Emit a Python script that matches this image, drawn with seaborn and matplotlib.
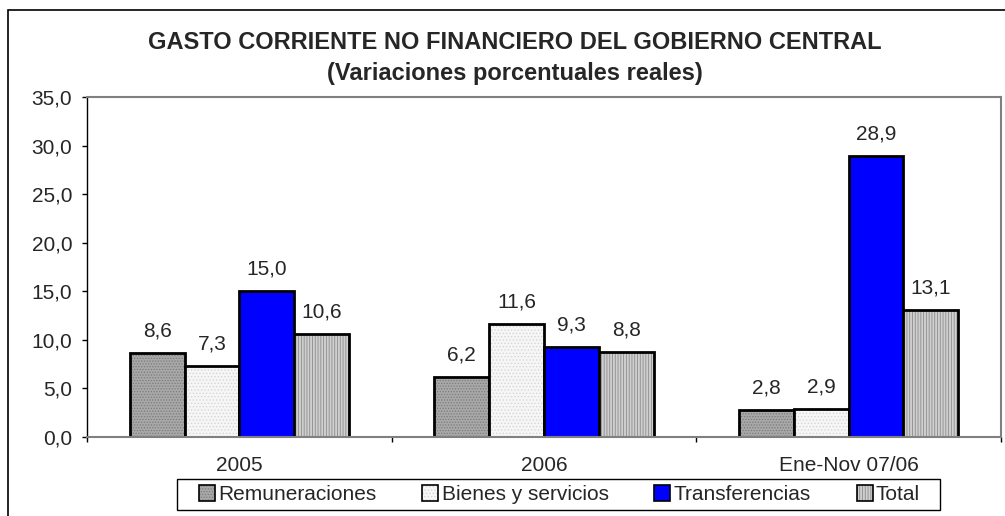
import numpy as np
import pandas as pd
import matplotlib
matplotlib.use('Agg')
import matplotlib.pyplot as plt
import seaborn as sns
from matplotlib.patches import Patch, Rectangle
from matplotlib.colors import to_rgba

# Data
periods = ['2005', '2006', 'Ene-Nov 07/06']
series = ['Remuneraciones', 'Bienes y servicios', 'Transferencias', 'Total']
remuneraciones = [8.6, 6.2, 2.8]
bienes = [7.3, 11.6, 2.9]
transferencias = [15.0, 9.3, 28.9]
total = [10.6, 8.8, 13.1]

# style per series: face, hatch, hatch colour
faces = ['#a8a8a8', '#f6f6f6', '#0000ff', '#cfcfcf']
hatches = ['......', '.....', '', '||||||']
hatch_cols = ['#7c7c7c', '#d6d6d6', '#0000ff', '#8c8c8c']

df = pd.DataFrame({
    'periodo': periods * 4,
    'serie': np.repeat(series, 3),
    'valor': remuneraciones + bienes + transferencias + total,
})

sns.set_style('white')
plt.rcParams['font.family'] = ['Liberation Sans', 'DejaVu Sans']
plt.rcParams['hatch.linewidth'] = 0.6

fig = plt.figure(figsize=(10.05, 5.16), dpi=100)
ax = fig.add_axes([0.0866, 0.153, 0.9094, 0.659])

sns.barplot(data=df, x='periodo', y='valor', hue='serie', order=periods,
            hue_order=series, palette=faces, width=0.72, saturation=1,
            legend=False, ax=ax)

for i, cont in enumerate(ax.containers):
    for p in cont:
        p.set_edgecolor('black')
        p.set_linewidth(2)
        p.set_hatch(hatches[i])
        p._hatch_color = to_rgba(hatch_cols[i])
    ax.bar_label(cont, labels=[f'{v:.1f}'.replace('.', ',') for v in cont.datavalues],
                 padding=9, fontsize=15)

ax.set_ylim(0, 35)
ax.set_xlim(-0.5, 2.5)
ax.set_yticks(np.arange(0, 36, 5))
ax.set_yticklabels([f'{v:.1f}'.replace('.', ',') for v in np.arange(0, 36, 5)], fontsize=15)
ax.tick_params(axis='y', direction='out', length=3.6, width=1, color='black', left=True, pad=7)
ax.tick_params(axis='x', length=0, labelsize=15, pad=13.5)
ax.set_xticks([-0.5, 0.5, 1.5, 2.5], minor=True)
ax.tick_params(axis='x', which='minor', direction='out', length=3.6, width=1, color='black', bottom=True)
ax.set_xlabel('')
ax.set_ylabel('')

for side in ['top', 'right', 'bottom']:
    ax.spines[side].set_color('#808080')
    ax.spines[side].set_linewidth(1.5)
ax.spines['left'].set_color('black')
ax.spines['left'].set_linewidth(1)

fig.text(0.512, 0.918, 'GASTO CORRIENTE NO FINANCIERO DEL GOBIERNO CENTRAL',
         ha='center', va='center', fontsize=17, fontweight='bold')
fig.text(0.512, 0.858, '(Variaciones porcentuales reales)',
         ha='center', va='center', fontsize=17, fontweight='bold')

handles = []
for i in range(4):
    h = Patch(facecolor=faces[i], edgecolor='black', linewidth=1.2, hatch=hatches[i])
    h._hatch_color = to_rgba(hatch_cols[i])
    handles.append(h)
leg = fig.legend(handles, series, loc='center', bbox_to_anchor=(559.5 / 1005, 1 - 494.5 / 516),
                 ncol=4, fontsize=15, frameon=False, handlelength=0.77,
                 handleheight=0.77, handletextpad=0.15, columnspacing=2.2,
                 borderpad=0, borderaxespad=0)

# legend box (wider than the default frame padding allows)
fig.patches.append(Rectangle((177 / 1005, 1 - 510 / 516), 763 / 1005, 31 / 516,
                             transform=fig.transFigure, fill=False,
                             edgecolor='black', linewidth=1))

# outer chart frame (cut by the image edge on right and bottom)
fig.patches.append(Rectangle((8 / 1005, -0.05), 1.1, 1 - 10 / 516 + 0.05,
                             transform=fig.transFigure, fill=False,
                             edgecolor='black', linewidth=1.2))

fig.savefig('out.png', dpi=100)
